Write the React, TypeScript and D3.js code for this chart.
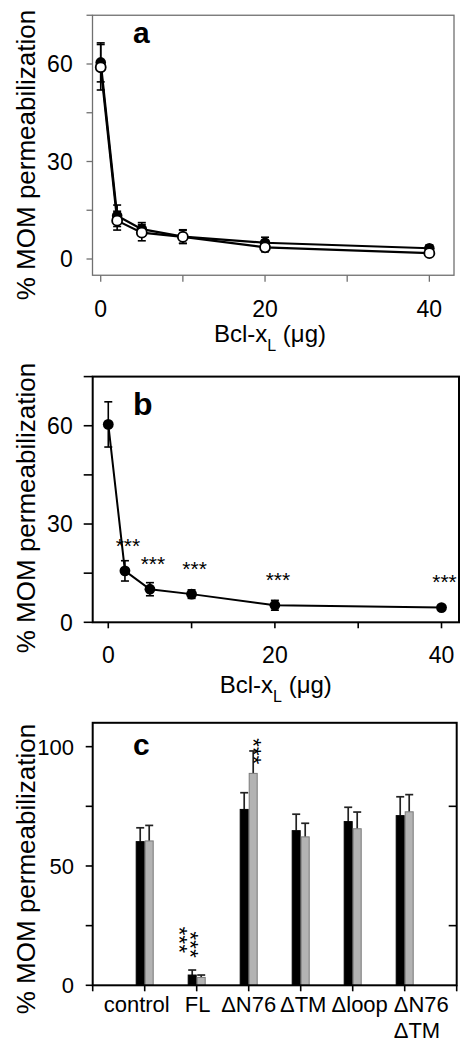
import React from "react";
import * as d3 from "d3";

// ---------- DATA ----------
// Panel a: two series vs Bcl-xL dose
const doseA = [0, 2, 5, 10, 20, 40];
const aFilled = [60.5, 13.3, 9.2, 6.9, 5.0, 3.3];
const aFilledErr = [6.0, 3.3, 2.0, 2.1, 1.7, 1.0];
const aOpen = [59.0, 11.8, 8.1, 6.8, 3.6, 1.8];
const aOpenErr = [7.0, 2.9, 2.5, 2.0, 1.4, 0.8];
const aYTicks = [0, 30, 60];
const aYMinor = [15, 45, 75];
const aXTicks = [0, 20, 40];
const aXMinor = [10, 30];

// Panel b
const doseB = [0, 2, 5, 10, 20, 40];
const bMean = [60.4, 15.7, 10.1, 8.6, 5.2, 4.5];
const bErr = [6.9, 3.1, 2.0, 1.3, 1.5, 0.6];
const bSig = ["", "***", "***", "***", "***", "***"];
const bYTicks = [0, 30, 60];
const bYMinor = [15, 45, 75];
const bXTicks = [0, 20, 40];
const bXMinor = [10, 30];

// Panel c
const categories = [["control"], ["FL"], ["ΔN76"], ["ΔTM"], ["Δloop"], ["ΔN76", "ΔTM"]];
const blackVals = [60.2, 4.3, 73.7, 64.8, 68.6, 71.1];
const blackErr = [5.8, 2.1, 7.0, 6.9, 6.0, 7.9];
const grayVals = [60.5, 3.3, 88.8, 62.2, 65.6, 72.7];
const grayErr = [6.5, 1.0, 9.4, 5.7, 7.0, 7.2];
const cSig = [
  { group: 1, series: 0, level: 19, mark: "***" },
  { group: 1, series: 1, level: 17, mark: "***" },
  { group: 2, series: 1, level: 98, mark: "***" },
];
const cYTicks = [0, 50, 100];
const cYMinor = [25, 75];

// ---------- STYLE / LAYOUT ----------
const FONT = "'Liberation Sans', Arial, Helvetica, sans-serif";
const TICK_FS = 23;
const LABEL_FS = 26;
const PANEL_FS = 30;
const catLabelDx = [-8, 1, 0, 2.5, 7, -11];
const sigDx = [-7.5, -5.8, 6];

function YLabel({ cy }: { cy: number }) {
  return (
    <text
      transform={`translate(35,${cy}) rotate(-90)`}
      textAnchor="middle"
      fontFamily={FONT}
      fontSize={LABEL_FS}
      fill="#000"
    >
      % MOM permeabilization
    </text>
  );
}

function XLabel({ cx, y }: { cx: number; y: number }) {
  return (
    <text x={cx} y={y} textAnchor="middle" fontFamily={FONT} fontSize={24} fill="#000">
      Bcl-x
      <tspan dy={9} fontSize={16}>L</tspan>
      <tspan dy={-9}>{" (\u03bcg)"}</tspan>
    </text>
  );
}

function PanelA() {
  const x = d3.scaleLinear().domain([-1, 43]).range([92.5, 454]);
  const y = d3.scaleLinear().domain([-5, 75]).range([275.25, 15.25]);
  const [x0, x1] = x.range();
  const [yb, yt] = y.range();
  const line = d3
    .line<[number, number]>()
    .x((d) => x(d[0]))
    .y((d) => y(d[1]));
  const filledPts = doseA.map((d, i) => [d, aFilled[i]] as [number, number]);
  const openPts = doseA.map((d, i) => [d, aOpen[i]] as [number, number]);
  const frame = "#707070";
  return (
    <g>
      <rect x={x0} y={yt} width={x1 - x0} height={yb - yt} fill="none" stroke={frame} strokeWidth={1.3} />
      {[...aYTicks, ...aYMinor].map((t) => (
        <line key={"yt" + t} x1={x0 - 6} x2={x0} y1={y(t)} y2={y(t)} stroke={frame} strokeWidth={1.3} />
      ))}
      {[...aXTicks, ...aXMinor].map((t) => (
        <line key={"xt" + t} x1={x(t)} x2={x(t)} y1={yb} y2={yb + 6.5} stroke={frame} strokeWidth={1.3} />
      ))}
      {aYTicks.map((t) => (
        <text key={"yl" + t} x={72.7} y={y(t) + TICK_FS * 0.36} textAnchor="end" fontFamily={FONT} fontSize={TICK_FS}>
          {t}
        </text>
      ))}
      {aXTicks.map((t) => (
        <text key={"xl" + t} x={x(t)} y={316.7} textAnchor="middle" fontFamily={FONT} fontSize={TICK_FS}>
          {t}
        </text>
      ))}
      {doseA.map((d, i) => (
        <g key={"ef" + i} stroke="#000" strokeWidth={1.6}>
          <line x1={x(d)} x2={x(d)} y1={y(aFilled[i] + aFilledErr[i])} y2={y(aFilled[i] - aFilledErr[i])} />
          <line x1={x(d) - 4} x2={x(d) + 4} y1={y(aFilled[i] + aFilledErr[i])} y2={y(aFilled[i] + aFilledErr[i])} />
          <line x1={x(d) - 4} x2={x(d) + 4} y1={y(aFilled[i] - aFilledErr[i])} y2={y(aFilled[i] - aFilledErr[i])} />
        </g>
      ))}
      {doseA.map((d, i) => (
        <g key={"eo" + i} stroke="#000" strokeWidth={1.6}>
          <line x1={x(d)} x2={x(d)} y1={y(aOpen[i] + aOpenErr[i])} y2={y(aOpen[i] - aOpenErr[i])} />
          <line x1={x(d) - 4} x2={x(d) + 4} y1={y(aOpen[i] + aOpenErr[i])} y2={y(aOpen[i] + aOpenErr[i])} />
          <line x1={x(d) - 4} x2={x(d) + 4} y1={y(aOpen[i] - aOpenErr[i])} y2={y(aOpen[i] - aOpenErr[i])} />
        </g>
      ))}
      <path d={line(filledPts) || ""} fill="none" stroke="#000" strokeWidth={2.2} />
      <path d={line(openPts) || ""} fill="none" stroke="#000" strokeWidth={2.2} />
      {filledPts.map((p, i) => (
        <circle key={"cf" + i} cx={x(p[0])} cy={y(p[1])} r={5.3} fill="#000" />
      ))}
      {openPts.map((p, i) => (
        <circle key={"co" + i} cx={x(p[0])} cy={y(p[1])} r={5} fill="#fff" stroke="#000" strokeWidth={1.8} />
      ))}
      <text x={133} y={42.5} fontFamily={FONT} fontSize={PANEL_FS} fontWeight="bold">
        a
      </text>
      <XLabel cx={270} y={342} />
      <YLabel cy={155} />
    </g>
  );
}

function PanelB() {
  const x = d3.scaleLinear().domain([-1.87, 42.1]).range([92.7, 459]);
  const y = d3.scaleLinear().domain([0, 75]).range([622.3, 376.6]);
  const [x0, x1] = x.range();
  const [yb, yt] = y.range();
  const line = d3
    .line<number>()
    .x((_, i) => x(doseB[i]))
    .y((d) => y(d));
  const starFs = 21;
  return (
    <g>
      {[...bYTicks, ...bYMinor].map((t) => (
        <line key={"yt" + t} x1={x0 - 9} x2={x0} y1={y(t)} y2={y(t)} stroke="#000" strokeWidth={1.6} />
      ))}
      {[...bXTicks, ...bXMinor].map((t) => (
        <line key={"xt" + t} x1={x(t)} x2={x(t)} y1={yb} y2={yb + 6} stroke="#000" strokeWidth={1.6} />
      ))}
      <rect x={x0} y={yt} width={x1 - x0} height={yb - yt} fill="none" stroke="#000" strokeWidth={2} />
      {bYTicks.map((t) => (
        <text key={"yl" + t} x={72.7} y={y(t) + TICK_FS * 0.36} textAnchor="end" fontFamily={FONT} fontSize={TICK_FS}>
          {t}
        </text>
      ))}
      {bXTicks.map((t) => (
        <text key={"xl" + t} x={x(t)} y={662.5} textAnchor="middle" fontFamily={FONT} fontSize={TICK_FS}>
          {t}
        </text>
      ))}
      {doseB.map((d, i) => (
        <g key={"e" + i} stroke="#000" strokeWidth={1.6}>
          <line x1={x(d)} x2={x(d)} y1={y(bMean[i] + bErr[i])} y2={y(bMean[i] - bErr[i])} />
          <line x1={x(d) - 4} x2={x(d) + 4} y1={y(bMean[i] + bErr[i])} y2={y(bMean[i] + bErr[i])} />
          <line x1={x(d) - 4} x2={x(d) + 4} y1={y(bMean[i] - bErr[i])} y2={y(bMean[i] - bErr[i])} />
        </g>
      ))}
      <path d={line(bMean) || ""} fill="none" stroke="#000" strokeWidth={2} />
      {doseB.map((d, i) => (
        <circle key={"c" + i} cx={x(d)} cy={y(bMean[i])} r={5.4} fill="#000" />
      ))}
      {doseB.map((d, i) =>
        bSig[i] ? (
          <text
            key={"s" + i}
            x={x(d) + 3}
            y={y(bMean[i] + 9.3) + starFs * 0.58}
            textAnchor="middle"
            fontFamily={FONT}
            fontSize={starFs}
          >
            {bSig[i]}
          </text>
        ) : null
      )}
      <text x={133} y={415} fontFamily={FONT} fontSize={PANEL_FS + 2} fontWeight="bold">
        b
      </text>
      <XLabel cx={275.8} y={693} />
      <YLabel cy={508} />
    </g>
  );
}

function PanelC() {
  const x = d3.scaleLinear().domain([0, categories.length + 1]).range([92.7, 456.7]);
  const y = d3.scaleLinear().domain([0, 110]).range([985.3, 722.8]);
  const [x0, x1] = x.range();
  const [yb, yt] = y.range();
  const bw = 9;
  const series = [
    { vals: blackVals, errs: blackErr, fill: "#000", stroke: "#000", off: -bw },
    { vals: grayVals, errs: grayErr, fill: "#b3b3b3", stroke: "#7a7a7a", off: 0 },
  ];
  const xTicks = d3.range(0, categories.length + 2);
  const starFs = 22;
  return (
    <g>
      {[...cYTicks, ...cYMinor].map((t) => (
        <line key={"yt" + t} x1={x0 - 7} x2={x0} y1={y(t)} y2={y(t)} stroke="#000" strokeWidth={1.6} />
      ))}
      {cYMinor.map((t) => (
        <line key={"yr" + t} x1={x1 - 8} x2={x1} y1={y(t)} y2={y(t)} stroke="#000" strokeWidth={1.6} />
      ))}
      {xTicks.map((t) => (
        <line key={"xt" + t} x1={x(t)} x2={x(t)} y1={yb} y2={yb + 6} stroke="#000" strokeWidth={1.6} />
      ))}
      {cYTicks.map((t) => (
        <text key={"yl" + t} x={74} y={y(t) + 22 * 0.36} textAnchor="end" fontFamily={FONT} fontSize={22}>
          {t}
        </text>
      ))}
      {series.map((s, si) =>
        s.vals.map((v, i) => {
          const cx = x(i + 1) + s.off;
          const top = y(v + s.errs[i]);
          return (
            <g key={`b${si}-${i}`}>
              <line x1={cx + bw / 2} x2={cx + bw / 2} y1={y(v)} y2={top} stroke="#222" strokeWidth={1.7} />
              <line x1={cx + bw / 2 - 4} x2={cx + bw / 2 + 4} y1={top} y2={top} stroke="#222" strokeWidth={1.7} />
              <rect
                x={cx + 0.5}
                y={y(v)}
                width={bw - 1}
                height={yb - y(v)}
                fill={s.fill}
                stroke={s.stroke}
                strokeWidth={1}
              />
            </g>
          );
        })
      )}
      <rect x={x0} y={yt} width={x1 - x0} height={yb - yt} fill="none" stroke="#000" strokeWidth={2} />
      {cSig.map((s, k) => {
        const cx = x(s.group + 1) + series[s.series].off + bw / 2 + sigDx[k];
        const cy = y(s.level);
        // rotated 90°: glyph "up" points right, so shift baseline left to centre the asterisks
        return (
          <text
            key={"sig" + k}
            transform={`translate(${cx - starFs * 0.58},${cy}) rotate(90)`}
            textAnchor="middle"
            fontFamily={FONT}
            fontSize={starFs}
            letterSpacing={0.3}
          >
            {s.mark}
          </text>
        );
      })}
      {categories.map((lines, i) => {
        const multi = lines.length > 1;
        return (
          <text
            key={"cl" + i}
            x={x(i + 1) + catLabelDx[i]}
            y={1011.7}
            textAnchor={multi ? "start" : "middle"}
            fontFamily={FONT}
            fontSize={22}
          >
            {lines.map((ln, j) => (
              <tspan key={j} x={x(i + 1) + catLabelDx[i]} dy={j === 0 ? 0 : 26.5}>
                {ln}
              </tspan>
            ))}
          </text>
        );
      })}
      <text x={133} y={755} fontFamily={FONT} fontSize={PANEL_FS} fontWeight="bold">
        c
      </text>
      <YLabel cy={869} />
    </g>
  );
}

export default function App() {
  return (
    <svg
      width={467}
      height={1050}
      viewBox="0 0 467 1050"
      style={{ position: "absolute", left: 0, top: 0, background: "#fff" }}
    >
      <rect width={467} height={1050} fill="#fff" />
      <PanelA />
      <PanelB />
      <PanelC />
    </svg>
  );
}
